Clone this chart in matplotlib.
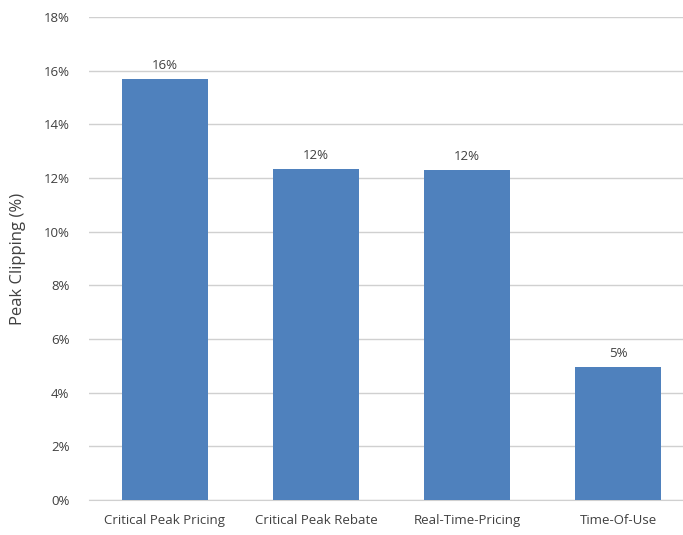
import matplotlib
matplotlib.use("Agg")
import matplotlib.pyplot as plt
from matplotlib.ticker import FuncFormatter

categories = ["Critical Peak Pricing", "Critical Peak Rebate", "Real-Time-Pricing", "Time-Of-Use"]
values = [15.7, 12.35, 12.3, 4.95]
labels = ["16%", "12%", "12%", "5%"]

plt.rcParams['font.family'] = ['Open Sans', 'DejaVu Sans']
fig = plt.figure(figsize=(6.83, 5.35), dpi=100)
ax = fig.add_axes([89/683, 35/535, (683-89)/683, (500-17)/535])

x = range(len(categories))
bars = ax.bar(x, values, width=0.57, color="#4F81BD", zorder=3)
for xi, v, lab in zip(x, values, labels):
    ax.text(xi, v + 0.25, lab, ha="center", va="bottom", fontsize=9.5, color="#404040")

ax.set_ylim(0, 18)
ax.set_yticks(range(0, 19, 2))
ax.yaxis.set_major_formatter(FuncFormatter(lambda v, p: f"{int(v)}%"))
ax.set_xlim(-0.5, 3.5 - 11/151)
ax.set_xticks(list(x))
ax.set_xticklabels(categories)
ax.tick_params(axis="both", length=0, labelsize=9.5, colors="#404040")
ax.tick_params(axis="x", pad=10)
ax.tick_params(axis="y", pad=14)
ax.grid(axis="y", color="#d0d0d0", linewidth=1, zorder=0)
for s in ["top", "right", "left"]:
    ax.spines[s].set_visible(False)
ax.spines["bottom"].set_color("#d0d0d0")
ax.set_ylabel("Peak Clipping (%)", fontsize=12, color="#404040")
ax.yaxis.set_label_coords(-(89 - 26) / (683 - 89), 0.5)

fig.savefig("out.png", dpi=100)
